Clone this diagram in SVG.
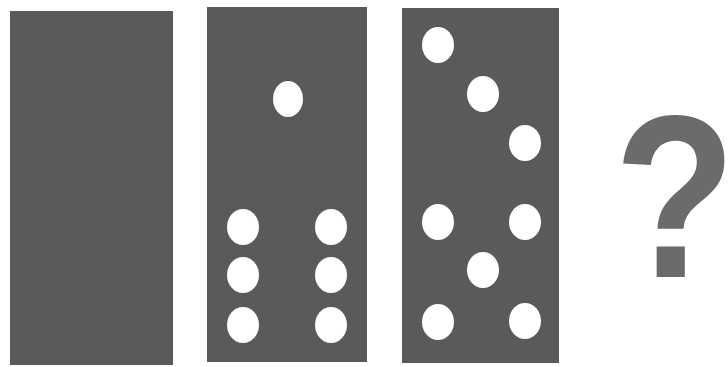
<svg xmlns="http://www.w3.org/2000/svg" width="728" height="367" viewBox="0 0 728 367">
<style>
.tile{fill:#5a5a5a}
.pip{fill:#ffffff}
.q{fill:#6b6b6b;font-family:"Liberation Sans",Arial,sans-serif;font-weight:bold;font-size:232px}
</style>
<rect width="728" height="367" fill="#ffffff"/>
<g id="domino1"><rect class="tile" x="10" y="11" width="163" height="354"/></g>
<g id="domino2">
<rect class="tile" x="207" y="7" width="160" height="355"/>
<ellipse class="pip" cx="288" cy="99" rx="15" ry="18"/>
<ellipse class="pip" cx="243" cy="227" rx="16" ry="18"/>
<ellipse class="pip" cx="331" cy="227" rx="16" ry="18"/>
<ellipse class="pip" cx="243" cy="275" rx="16" ry="18"/>
<ellipse class="pip" cx="331" cy="275" rx="16" ry="18"/>
<ellipse class="pip" cx="243" cy="325" rx="16" ry="18"/>
<ellipse class="pip" cx="331" cy="325" rx="16" ry="18"/>
</g>
<g id="domino3">
<rect class="tile" x="402" y="8" width="157" height="355"/>
<ellipse class="pip" cx="438" cy="45" rx="16" ry="18"/>
<ellipse class="pip" cx="483" cy="94" rx="16" ry="18"/>
<ellipse class="pip" cx="525" cy="143" rx="16" ry="18"/>
<ellipse class="pip" cx="438" cy="222" rx="16" ry="18"/>
<ellipse class="pip" cx="525" cy="222" rx="16" ry="18"/>
<ellipse class="pip" cx="483" cy="270" rx="16" ry="18"/>
<ellipse class="pip" cx="438" cy="322" rx="16" ry="18"/>
<ellipse class="pip" cx="525" cy="321" rx="16" ry="18"/>
</g>
<g id="question"><text class="q" transform="translate(675,277) scale(0.86,1)" text-anchor="middle">?</text></g>
</svg>
